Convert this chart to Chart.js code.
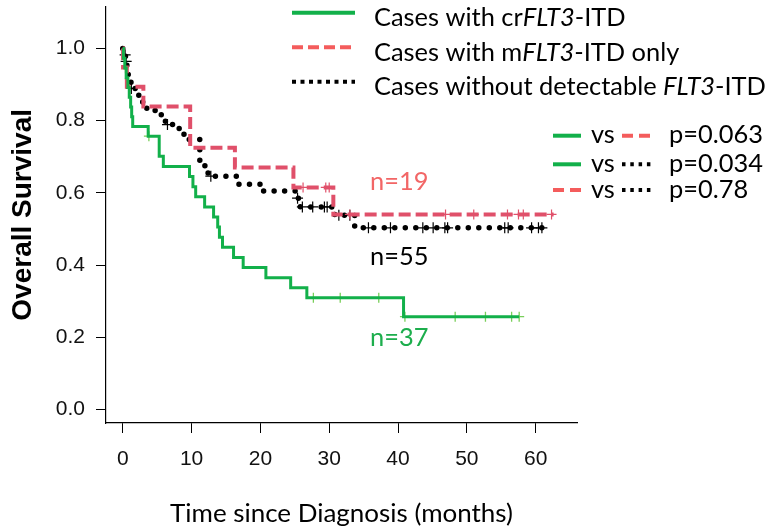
<!DOCTYPE html>
<html>
<head>
<meta charset="utf-8">
<script src="https://cdn.jsdelivr.net/npm/chart.js@4.4.1/dist/chart.umd.min.js"></script>
<style>
  html, body { margin: 0; padding: 0; background: #fff; }
  canvas { display: block; }
</style>
</head>
<body>
<canvas id="myChart" width="769" height="532"></canvas>
<script>
// Kaplan-Meier steps: month of each drop and the survival level after it (last entry = end of follow-up)
const crTimes = [0, 0.1, 0.3, 0.5, 0.75, 0.95, 1.15, 1.3, 1.45, 3.7, 5.3, 5.9, 9.7, 10.2, 10.6, 11.9, 13.2, 13.8, 14.05, 14.5, 16.1, 17.5, 20.8, 24.4, 26.75, 40.8, 57.6];
const crSurv  = [1.0, 0.973, 0.946, 0.919, 0.892, 0.865, 0.838, 0.811, 0.784, 0.757, 0.701, 0.673, 0.645, 0.617, 0.589, 0.561, 0.533, 0.505, 0.477, 0.449, 0.421, 0.393, 0.365, 0.337, 0.309, 0.257, 0.257];
const crCensored = [3.8, 27.7, 31.6, 37.2, 41.0, 48.3, 52.7, 56.5, 57.6];

const mTimes = [0, 0.05, 0.6, 3.0, 9.8, 16.3, 24.8, 30.6, 62.6];
const mSurv  = [1.0, 0.947, 0.894, 0.839, 0.725, 0.670, 0.615, 0.540, 0.540];
const mCensored = [26.2, 29.5, 30.0, 33.0, 46.9, 51.0, 55.9, 57.5, 58.2, 62.3];

const noTimes = [0, 0.15, 0.4, 0.6, 0.8, 1.0, 1.2, 2.3, 2.9, 3.5, 5.6, 6.2, 8.2, 8.9, 11.2, 12.4, 16.5, 20.4, 25.1, 25.8, 30.8, 33.7, 61.2];
const noSurv  = [1.0, 0.982, 0.964, 0.945, 0.927, 0.908, 0.889, 0.870, 0.851, 0.828, 0.806, 0.789, 0.769, 0.748, 0.675, 0.646, 0.624, 0.605, 0.585, 0.561, 0.538, 0.503, 0.503];
const noCensored = [0.35, 0.5, 1.25, 6.5, 12.8, 25.4, 26.1, 27.6, 29.3, 29.7, 31.4, 33.0, 35.7, 38.9, 43.6, 45.1, 46.8, 47.2, 55.5, 56.0, 59.4, 60.4, 60.9];

const xTicks = [0, 10, 20, 30, 40, 50, 60];
const yTicks = [0, 0.2, 0.4, 0.6, 0.8, 1.0];

const nLabels = ['n=19', 'n=55', 'n=37'];
const pRows = [['cr', 'm', 'p=0.063'], ['cr', 'no', 'p=0.034'], ['m', 'no', 'p=0.78']];

const green = '#12b04a', greenLight = '#79cf5a', red = '#e0506a', redLight = '#f45c5c';
const sans = 'Lato, "Open Sans", sans-serif';
const arial = '"Liberation Sans", Arial, sans-serif';

function steps(times, surv) {
  return times.map((t, i) => ({ x: t, y: surv[i] }));
}
// put each censor mark on the curve level at that time
function onCurve(censored, times, surv) {
  return censored.map(t => {
    let s = surv[0];
    for (let i = 0; i < times.length; i++) if (times[i] <= t) s = surv[i];
    return { x: t, y: s };
  });
}

// pick a Lato size so a text run matches the width seen in the original
const mctx = document.createElement('canvas').getContext('2d');
function runWidth(parts, size) {
  let w = 0;
  parts.forEach(p => {
    mctx.font = (p.i ? 'italic ' : '') + size + 'px ' + sans;
    w += mctx.measureText(p.t).width;
  });
  return w;
}
const row3 = [{ t: 'Cases without detectable ' }, { t: 'FLT3', i: true }, { t: '-ITD' }];
const textSize = 100 * 392 / runWidth(row3, 100);
const xTitleSize = 100 * 343 / runWidth([{ t: 'Time since Diagnosis (months)' }], 100);

const legendRows = [
  [{ t: 'Cases with cr' }, { t: 'FLT3', i: true }, { t: '-ITD' }],
  [{ t: 'Cases with m' }, { t: 'FLT3', i: true }, { t: '-ITD only' }],
  row3
];

function sample(c, kind, x0, x1, y, short) {
  c.save();
  c.beginPath();
  c.lineWidth = 4;
  c.lineCap = 'butt';
  if (kind === 'cr') { c.strokeStyle = green; c.setLineDash([]); }
  if (kind === 'm') { c.strokeStyle = redLight; c.setLineDash(short ? [11, 6] : [11, 5]); }
  if (kind === 'no') { c.strokeStyle = '#000'; c.setLineDash(short ? [3.5, 4.8] : [4, 4.5]); }
  c.moveTo(x0, y);
  c.lineTo(x1, y);
  c.stroke();
  c.restore();
}

function rich(c, parts, x, y, size) {
  parts.forEach(p => {
    c.font = (p.i ? 'italic ' : '') + size + 'px ' + sans;
    c.fillText(p.t, x, y);
    x += c.measureText(p.t).width;
  });
}

const annotations = {
  id: 'annotations',
  afterDraw(chart) {
    const c = chart.ctx;
    c.save();
    c.textBaseline = 'alphabetic';
    c.textAlign = 'left';
    c.fillStyle = '#000';
    const kinds = ['cr', 'm', 'no'];
    [12.7, 47.3, 81.7].forEach((y, i) => {
      sample(c, kinds[i], 292, 355, y, false);
      c.fillStyle = '#000';
      rich(c, legendRows[i], 374, y + 13.3, textSize);
    });
    [135.7, 164.3, 190].forEach((y, i) => {
      sample(c, pRows[i][0], 553, 581, y, true);
      c.fillStyle = '#000';
      rich(c, [{ t: 'vs' }], 591, y + 7.7, textSize);
      sample(c, pRows[i][1], 622, 651, y, true);
      rich(c, [{ t: pRows[i][2] }], 669, y + 7.7, textSize);
    });
    const nColors = ['#f26666', '#000', '#1dae4d'];
    [190, 265, 346].forEach((y, i) => {
      c.fillStyle = nColors[i];
      rich(c, [{ t: nLabels[i] }], 370, y, textSize);
    });
    c.restore();
  }
};

const ctx = document.getElementById('myChart');

new Chart(ctx, {
  type: 'line',
  data: {
    datasets: [
      { data: steps(crTimes, crSurv), borderColor: green, borderWidth: 3, stepped: 'before', pointRadius: 0 },
      { data: onCurve(crCensored, crTimes, crSurv), showLine: false, pointStyle: 'cross', pointRadius: 5, borderColor: greenLight, borderWidth: 1.3 },
      { data: steps(mTimes, mSurv), borderColor: red, borderWidth: 4, borderDash: [12, 5], stepped: 'before', pointRadius: 0 },
      { data: onCurve(mCensored, mTimes, mSurv), showLine: false, pointStyle: 'cross', pointRadius: 5, borderColor: red, borderWidth: 1.2 },
      { data: steps(noTimes, noSurv), borderColor: '#000', borderWidth: 5.5, borderDash: [0, 10.5], borderCapStyle: 'round', stepped: 'before', pointRadius: 0 },
      { data: onCurve(noCensored, noTimes, noSurv), showLine: false, pointStyle: 'cross', pointRadius: 5.5, borderColor: '#000', borderWidth: 1.2 }
    ]
  },
  options: {
    responsive: false,
    animation: false,
    devicePixelRatio: 1,
    layout: { padding: { left: 0, right: 192, top: 3, bottom: 0 } },
    plugins: { legend: { display: false }, tooltip: { enabled: false } },
    scales: {
      x: {
        type: 'linear',
        min: -2.43,
        max: 66,
        afterFit: s => { s.height = 109; s.paddingLeft = 0; s.paddingRight = 0; },
        afterBuildTicks: s => { s.ticks = xTicks.map(v => ({ value: v })); },
        grid: { drawOnChartArea: false, drawTicks: true, tickLength: 10, tickColor: '#000', tickWidth: 1 },
        border: { display: true, color: '#000', width: 1.2 },
        ticks: { font: { family: arial, size: 21 }, color: '#111', padding: 14, maxRotation: 0 },
        title: { display: true, text: 'Time since Diagnosis (months)', color: '#000', font: { family: sans, size: xTitleSize }, padding: { top: 0, bottom: 3 } }
      },
      y: {
        min: -0.0376,
        max: 1.1155,
        afterFit: s => { s.width = 106; s.paddingTop = 0; s.paddingBottom = 0; },
        afterBuildTicks: s => { s.ticks = yTicks.map(v => ({ value: v })); },
        grid: { drawOnChartArea: false, drawTicks: true, tickLength: 10, tickColor: '#000', tickWidth: 1 },
        border: { display: true, color: '#000', width: 1.2 },
        ticks: { font: { family: arial, size: 21 }, color: '#111', padding: 11, callback: v => v.toFixed(1) },
        title: { display: true, text: 'Overall Survival', color: '#000', font: { family: arial, size: 28, weight: 'bold' }, padding: { top: 6, bottom: 0 } }
      }
    }
  },
  plugins: [annotations]
});
</script>
</body>
</html>
